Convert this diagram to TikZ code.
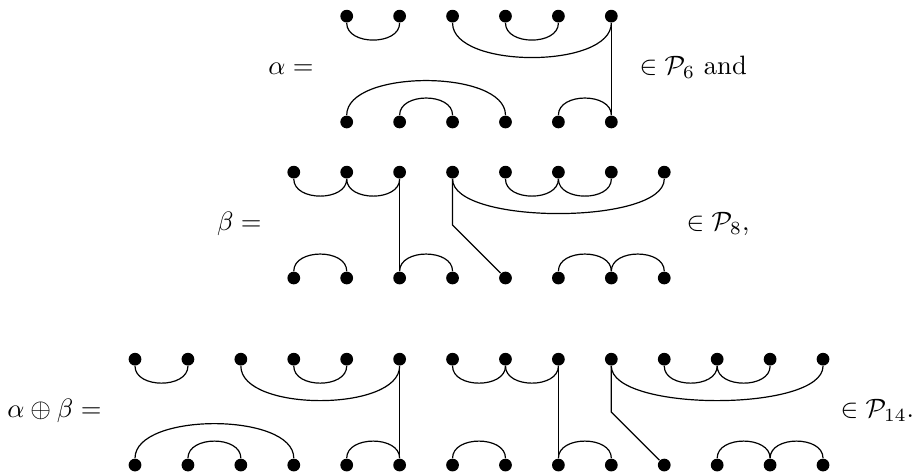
\documentclass[tikz,border=0pt]{standalone}
\usepackage{tikz}
\tikzset{
  dot/.style={circle,fill=black,inner sep=0pt,minimum size=4.8pt},
  strand/.style={draw=black,line width=0.45pt},
  lab/.style={inner sep=0pt},
}
\newcommand{\smalldip}{0.56}
\newcommand{\bigdip}{1.0}
% cup hanging from the top row, cap rising from the bottom row
\newcommand{\topcup}[3]{\draw[strand] (#1) .. controls +(0,-#3) and +(0,-#3) .. (#2);}
\newcommand{\botcap}[3]{\draw[strand] (#1) .. controls +(0,#3) and +(0,#3) .. (#2);}
% alpha: prefix, x of first dot, y of bottom row
\newcommand{\alphadiag}[3]{%
  \foreach \i in {1,...,6}{
    \node[dot] (#1t\i) at ({#2+\i-1},{#3+2}) {};
    \node[dot] (#1b\i) at ({#2+\i-1},{#3}) {};
  }
  \topcup{#1t1}{#1t2}{\smalldip}
  \topcup{#1t3}{#1t6}{\bigdip}
  \topcup{#1t4}{#1t5}{\smalldip}
  \botcap{#1b1}{#1b4}{\bigdip}
  \botcap{#1b2}{#1b3}{\smalldip}
  \botcap{#1b5}{#1b6}{\smalldip}
  \draw[strand] (#1t6) -- (#1b6);
}
% beta: prefix, x of first dot, y of bottom row
\newcommand{\betadiag}[3]{%
  \foreach \i in {1,...,8}{
    \node[dot] (#1t\i) at ({#2+\i-1},{#3+2}) {};
    \node[dot] (#1b\i) at ({#2+\i-1},{#3}) {};
  }
  \coordinate (#1k) at ({#2+3},{#3+1});
  \topcup{#1t1}{#1t2}{\smalldip}
  \topcup{#1t2}{#1t3}{\smalldip}
  \topcup{#1t4}{#1t8}{\bigdip}
  \topcup{#1t5}{#1t6}{\smalldip}
  \topcup{#1t6}{#1t7}{\smalldip}
  \botcap{#1b1}{#1b2}{\smalldip}
  \botcap{#1b3}{#1b4}{\smalldip}
  \botcap{#1b6}{#1b7}{\smalldip}
  \botcap{#1b7}{#1b8}{\smalldip}
  \draw[strand] (#1t3) -- (#1b3);
  \draw[strand] (#1t4) -- (#1k) -- (#1b5);
}
\begin{document}
\begin{tikzpicture}[x=0.7cm,y=0.7cm]
\useasboundingbox (0,0) rectangle (17.27,8.957);

% alpha in P_6
\alphadiag{A}{6.551}{6.652}
\node[lab,anchor=mid east] (alphaeq) at (5.934,7.652) {$\alpha =$};
\node[lab,anchor=mid west] (alphain) at (12.075,7.652) {$\in \mathcal{P}_6$ and};

% beta in P_8
\betadiag{B}{5.551}{3.704}
\node[lab,anchor=mid east] (betaeq) at (4.951,4.704) {$\beta =$};
\node[lab,anchor=mid west] (betain) at (12.963,4.704) {$\in \mathcal{P}_8$,};

% alpha + beta in P_14
\alphadiag{C}{2.551}{0.170}
\betadiag{D}{8.551}{0.170}
\node[lab,anchor=mid east] (sumeq) at (1.927,1.170) {$\alpha \oplus \beta =$};
\node[lab,anchor=mid west] (sumin) at (15.873,1.170) {$\in \mathcal{P}_{14}$.};

\end{tikzpicture}
\end{document}
